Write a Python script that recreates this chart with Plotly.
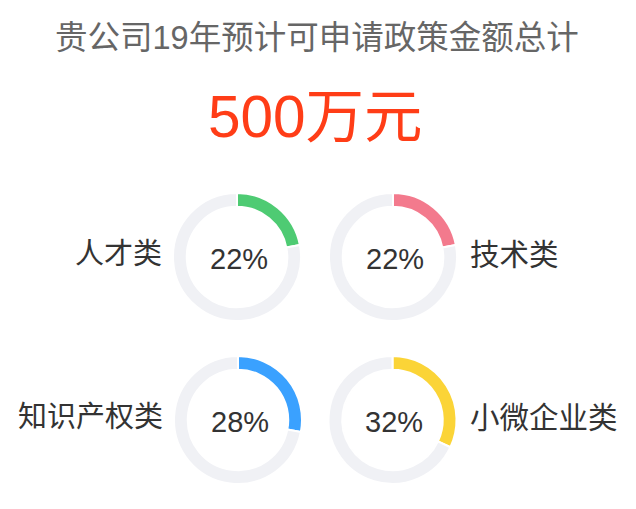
import plotly.graph_objects as go

# ---- data ----
categories = ["人才类", "技术类", "知识产权类", "小微企业类"]
percents = [22, 22, 28, 32]
colors = ["#4ECB73", "#F37A8D", "#3AA1FF", "#FBD437"]
title_text = "贵公司19年预计可申请政策金额总计"
total_text = "500万元"

# ---- layout constants (pixels) ----
W, H = 636, 509
centers = [(237, 257), (393, 257), (238, 420), (392.5, 420)]
R = 64
label_side = ["left", "right", "left", "right"]
FONT = "Liberation Sans, Noto Sans CJK SC, sans-serif"
TRACK = "#F0F1F5"

fig = go.Figure()
for i, (cat, p) in enumerate(zip(categories, percents)):
    cx, cy = centers[i]
    fig.add_trace(go.Pie(
        values=[p, 100 - p],
        labels=[cat, "其他"],
        marker=dict(colors=[colors[i], TRACK], line=dict(color="white", width=2)),
        hole=0.785,
        sort=False,
        direction="clockwise",
        rotation=0,
        textinfo="none",
        hoverinfo="label+percent",
        showlegend=False,
        domain=dict(x=[(cx - R) / W, (cx + R) / W],
                    y=[1 - (cy + R) / H, 1 - (cy - R) / H]),
    ))
    fig.add_annotation(x=cx / W + 1.5 / W, y=1 - (cy + 2) / H, xref="paper", yref="paper",
                       text=f"{p}%", showarrow=False,
                       font=dict(family=FONT, size=29, color="#333333"),
                       xanchor="center", yanchor="middle")
    if label_side[i] == "left":
        fig.add_annotation(x=(cx - R - 9) / W, y=1 - (cy - 3) / H, xref="paper", yref="paper",
                           text=cat, showarrow=False,
                           font=dict(family=FONT, size=29, color="#333333"),
                           xanchor="right", yanchor="middle")
    else:
        fig.add_annotation(x=(cx + R + 11) / W, y=1 - (cy - 3) / H, xref="paper", yref="paper",
                           text=cat, showarrow=False,
                           font=dict(family=FONT, size=29.5, color="#333333"),
                           xanchor="left", yanchor="middle")

fig.add_annotation(x=317 / W, y=1 - 38 / H, xref="paper", yref="paper",
                   text=title_text, showarrow=False,
                   font=dict(family=FONT, size=32.5, color="#666666"),
                   xanchor="center", yanchor="middle")
fig.add_annotation(x=315 / W, y=1 - 116 / H, xref="paper", yref="paper",
                   text=total_text, showarrow=False,
                   font=dict(family=FONT, size=58.5, color="#FF3D17"),
                   xanchor="center", yanchor="middle")

fig.update_layout(width=W, height=H, margin=dict(l=0, r=0, t=0, b=0),
                  paper_bgcolor="white", plot_bgcolor="white")
fig.write_html("out.html", config={"displayModeBar": False})
